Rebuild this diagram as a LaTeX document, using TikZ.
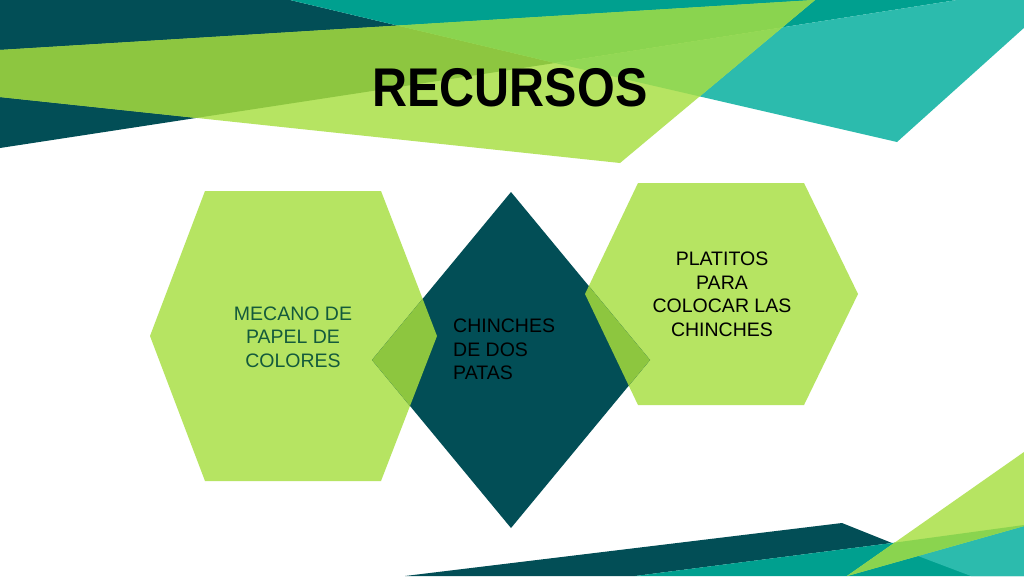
\documentclass[tikz,border=0pt]{standalone}
\usepackage{fontspec}
\setmainfont{Liberation Sans}
\definecolor{dteal}{HTML}{024E56}
\definecolor{teal1}{HTML}{00A08F}
\definecolor{lteal}{HTML}{2CBBAD}
\definecolor{lgreen}{HTML}{B6E462}
\definecolor{gdark}{HTML}{8DC640}
\definecolor{gteal}{HTML}{8AD44F}
\definecolor{glteal}{HTML}{92D855}
\definecolor{ovl}{HTML}{8DC63F}
\definecolor{lefttext}{HTML}{145A3C}
\tikzset{
  bodytext/.style={font=\fontsize{19.5}{23.5}\selectfont, align=center, inner sep=0pt},
}
\begin{document}
\begin{tikzpicture}[x=1pt,y=-1pt]
\useasboundingbox (0,0) rectangle (1024,576);
\clip (0,0) rectangle (1024,576);
\fill[white] (0,0) rectangle (1024,576);
% ---------- top banner ----------
\fill[dteal] (0,0) -- (290,0) -- (555,63) -- (0,148) -- cycle;
\fill[teal1] (290,0) -- (957,0) -- (555,63) -- cycle;
\fill[lteal] (555,63) -- (957,0) -- (1055,0) -- (897,142) -- cycle;
\fill[lgreen] (0,50) -- (815,0) -- (620,163) -- (0,97) -- cycle;
\begin{scope}
  \clip (0,0) -- (290,0) -- (555,63) -- (0,148) -- cycle;
  \fill[gdark] (0,50) -- (815,0) -- (620,163) -- (0,97) -- cycle;
\end{scope}
\begin{scope}
  \clip (290,0) -- (957,0) -- (555,63) -- cycle;
  \fill[gteal] (0,50) -- (815,0) -- (620,163) -- (0,97) -- cycle;
\end{scope}
\begin{scope}
  \clip (555,63) -- (957,0) -- (1055,0) -- (897,142) -- cycle;
  \fill[glteal] (0,50) -- (815,0) -- (620,163) -- (0,97) -- cycle;
\end{scope}
% ---------- bottom banner ----------
\fill[dteal] (405,576) -- (842,523) -- (892,543) -- (635,576) -- cycle;
\fill[teal1] (635,576) -- (892,543) -- (1024,525) -- (1024,576) -- cycle;
\fill[lteal] (918,556) -- (1024,524) -- (1024,576) -- (971,576) -- cycle;
\fill[lgreen] (847,576) -- (1024,452) -- (1024,526) -- cycle;
\begin{scope}
  \clip (635,576) -- (892,543) -- (1024,525) -- (1024,576) -- cycle;
  \fill[gteal] (847,576) -- (1024,452) -- (1024,526) -- cycle;
\end{scope}
% ---------- shapes ----------
\fill[lgreen] (150,336) -- (205,191) -- (381,191) -- (437,336) -- (381,481) -- (205,481) -- cycle;
\fill[lgreen] (585,294) -- (638,183) -- (804,183) -- (858,294) -- (804,405) -- (638,405) -- cycle;
\fill[dteal] (511,192) -- (650,360) -- (511,528) -- (372,360) -- cycle;
\begin{scope}
  \clip (150,336) -- (205,191) -- (381,191) -- (437,336) -- (381,481) -- (205,481) -- cycle;
  \fill[ovl] (511,192) -- (650,360) -- (511,528) -- (372,360) -- cycle;
\end{scope}
\begin{scope}
  \clip (585,294) -- (638,183) -- (804,183) -- (858,294) -- (804,405) -- (638,405) -- cycle;
  \fill[ovl] (511,192) -- (650,360) -- (511,528) -- (372,360) -- cycle;
\end{scope}
% ---------- texts ----------
\node[bodytext, text=lefttext] (mecano) at (293,337) {MECANO DE\\PAPEL DE\\COLORES};
\node[bodytext, text=black, align=left, anchor=west] (chinches) at (453,349.5) {CHINCHES\\DE DOS\\PATAS};
\node[bodytext, text=black] (platitos) at (722,294.5) {PLATITOS\\PARA\\COLOCAR LAS\\CHINCHES};
\node[anchor=base, inner sep=0pt, font=\fontsize{54.5}{60}\selectfont\bfseries] (title) at (510,106.7) {\scalebox{0.89}[1]{RECURSOS}};
\end{tikzpicture}
\end{document}
